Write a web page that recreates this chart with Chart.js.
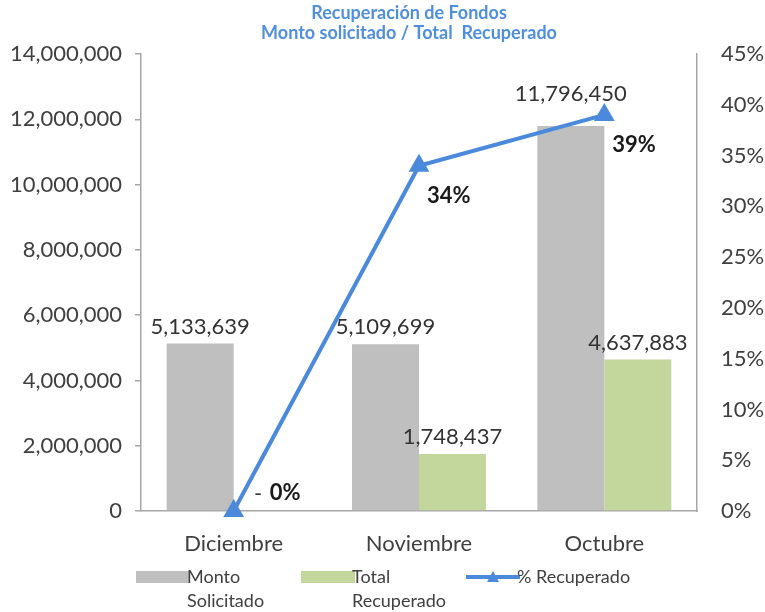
<!DOCTYPE html>
<html lang="es">
<head>
<meta charset="UTF-8" />
<title>Recuperación de Fondos</title>
<script src="https://cdn.jsdelivr.net/npm/chart.js"></script>
<style>
  body { margin: 0; background: #fff; }
  .chart-container { width: 765px; height: 612px; }
</style>
</head>
<body>
<div class="chart-container"><canvas id="fondos_chart"></canvas></div>
<script>
// datos
const meses = ["Diciembre", "Noviembre", "Octubre"];
const montoSolicitado = [5133639, 5109699, 11796450];
const totalRecuperado = [0, 1748437, 4637883];
const pctRecuperado = [0, 0.34, 0.39];
const leyendaTextos = ["Monto\nSolicitado", "Total\nRecuperado", "% Recuperado"];
const tituloLineas = ["Recuperación de Fondos", "Monto solicitado / Total  Recuperado"];

const GRIS_EJE = "#a6a6a6";
const TEXTO = "#404040";
const AZUL = "#4a89dc";

// titulo centrado sobre el area de trazado (un poco a la izquierda, como Excel)
const titulo = {
  id: "titulo",
  afterDraw(chart) {
    const ctx = chart.ctx;
    const cx = (chart.chartArea.left + chart.chartArea.right) / 2 - 10;
    ctx.save();
    ctx.font = "bold 18px Lato";
    ctx.fillStyle = "#4f8fdd";
    ctx.textAlign = "center";
    ctx.textBaseline = "middle";
    tituloLineas.forEach((t, k) => ctx.fillText(t, cx, 13 + k * 20));
    ctx.restore();
  }
};

// etiquetas de valores sobre barras y puntos
const etiquetas = {
  id: "etiquetas",
  afterDatasetsDraw(chart) {
    const ctx = chart.ctx;
    const idxLinea = chart.data.datasets.findIndex((d) => d.type === "line");
    const puntos = idxLinea >= 0 ? chart.getDatasetMeta(idxLinea).data : [];
    ctx.save();
    chart.data.datasets.forEach((ds, i) => {
      const meta = chart.getDatasetMeta(i);
      meta.data.forEach((el, j) => {
        const v = ds.data[j];
        if (ds.type === "line") {
          ctx.font = "bold 22px Lato";
          ctx.fillStyle = "#1a1a1a";
          ctx.textAlign = "left";
          ctx.textBaseline = "middle";
          const txt = Math.round(v * 100) + "%";
          if (v === 0) ctx.fillText(txt, el.x + 36, el.y - 18);
          else ctx.fillText(txt, el.x + 8, el.y + 30);
        } else {
          ctx.font = "22px Lato";
          ctx.fillStyle = "#333";
          ctx.textAlign = "center";
          ctx.textBaseline = "bottom";
          if (v === 0) {
            ctx.fillText("-", el.x - 9, el.y - 6);
            return;
          }
          const txt = v.toLocaleString("en-US");
          const w = ctx.measureText(txt).width;
          let yb = el.y - 6;
          // si la etiqueta tapa un punto de la linea, subirla por encima
          puntos.forEach((p) => {
            if (Math.abs(p.x - el.x) < w / 2 + 8 && p.y > yb - 28 && p.y < yb + 10) {
              yb = Math.min(yb, p.y - 10);
            }
          });
          ctx.fillText(txt, el.x, yb);
        }
      });
    });
    ctx.restore();
  }
};

// leyenda abajo con textos en dos lineas (como Excel)
const leyenda = {
  id: "leyenda",
  afterDraw(chart) {
    const ctx = chart.ctx;
    const y0 = chart.chartArea.bottom + 66;
    const x0 = chart.chartArea.left - 5;
    const paso = 165;
    ctx.save();
    ctx.font = "18px Lato";
    ctx.textBaseline = "middle";
    ctx.textAlign = "left";
    chart.data.datasets.forEach((ds, i) => {
      const x = x0 + i * paso;
      if (ds.type === "line") {
        ctx.strokeStyle = ds.borderColor;
        ctx.lineWidth = 4;
        ctx.beginPath();
        ctx.moveTo(x, y0);
        ctx.lineTo(x + 54, y0);
        ctx.stroke();
        ctx.fillStyle = ds.borderColor;
        ctx.beginPath();
        ctx.moveTo(x + 27, y0 - 6);
        ctx.lineTo(x + 33, y0 + 5);
        ctx.lineTo(x + 21, y0 + 5);
        ctx.closePath();
        ctx.fill();
      } else {
        ctx.fillStyle = ds.backgroundColor;
        ctx.fillRect(x, y0 - 6, 54, 12);
      }
      ctx.fillStyle = TEXTO;
      leyendaTextos[i].split("\n").forEach((linea, k) => {
        ctx.fillText(linea, x + 51, y0 + k * 24);
      });
    });
    ctx.restore();
  }
};

const fuenteEje = { family: "Lato", size: 22 };

new Chart(document.getElementById("fondos_chart").getContext("2d"), {
  data: {
    labels: meses,
    datasets: [
      {
        type: "bar",
        label: "Monto Solicitado",
        data: montoSolicitado,
        yAxisID: "y",
        backgroundColor: "#bfbfbf",
        order: 1
      },
      {
        type: "bar",
        label: "Total Recuperado",
        data: totalRecuperado,
        yAxisID: "y",
        backgroundColor: "#c3d69b",
        order: 1
      },
      {
        type: "line",
        label: "% Recuperado",
        data: pctRecuperado,
        yAxisID: "y1",
        borderColor: AZUL,
        backgroundColor: AZUL,
        borderWidth: 4,
        pointStyle: "triangle",
        pointRadius: 8,
        tension: 0,
        clip: false,
        order: 0
      }
    ]
  },
  options: {
    responsive: true,
    maintainAspectRatio: false,
    animation: false,
    layout: { padding: { top: 54 } },
    datasets: {
      bar: { categoryPercentage: 0.723, barPercentage: 1 }
    },
    plugins: {
      legend: { display: false },
      tooltip: { enabled: false },
      title: { display: false }
    },
    scales: {
      x: {
        grid: { display: false, drawTicks: false },
        border: { display: true, color: GRIS_EJE, width: 1.5 },
        ticks: { color: TEXTO, font: fuenteEje, padding: 20 },
        afterFit(s) { s.height = 101; }
      },
      y: {
        position: "left",
        min: 0,
        max: 14000000,
        ticks: {
          stepSize: 2000000,
          color: TEXTO,
          font: fuenteEje,
          padding: 13,
          callback: (v) => v.toLocaleString("en-US")
        },
        grid: { drawOnChartArea: false, drawTicks: true, tickLength: 6, color: GRIS_EJE, lineWidth: 1.5 },
        border: { display: true, color: GRIS_EJE, width: 1.5 },
        afterFit(s) { s.width = 141; }
      },
      y1: {
        position: "right",
        min: 0,
        max: 0.45,
        ticks: {
          stepSize: 0.05,
          color: TEXTO,
          font: fuenteEje,
          padding: 24,
          callback: (v) => Math.round(v * 100) + "%"
        },
        grid: { display: false, drawTicks: false },
        border: { display: true, color: GRIS_EJE, width: 1.5 },
        afterFit(s) { s.width = 68; }
      }
    }
  },
  plugins: [titulo, etiquetas, leyenda]
});
</script>
</body>
</html>
